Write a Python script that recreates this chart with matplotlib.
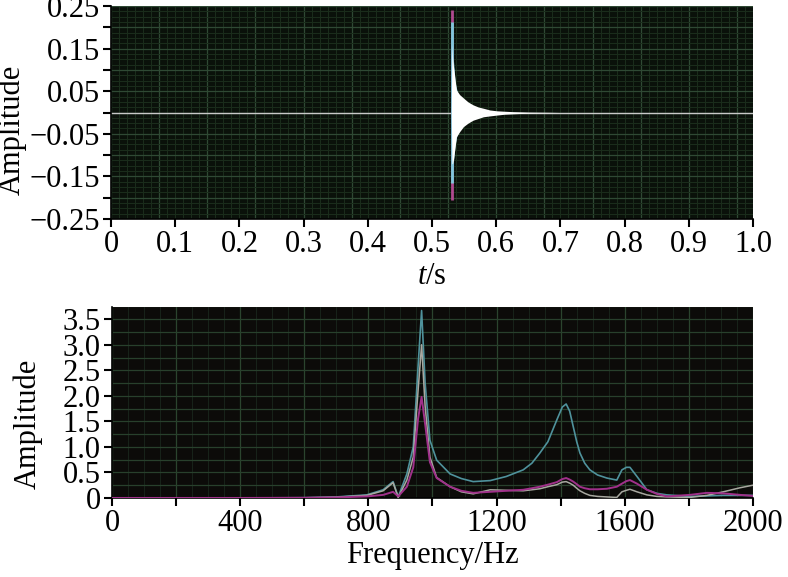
import numpy as np
import matplotlib
matplotlib.use("Agg")
import matplotlib.pyplot as plt
from matplotlib.ticker import MultipleLocator, FixedLocator

plt.rcParams['font.family'] = ['Liberation Serif', 'DejaVu Serif']
plt.rcParams['mathtext.fontset'] = 'custom'
plt.rcParams['mathtext.rm'] = 'Liberation Serif'
plt.rcParams['mathtext.it'] = 'Liberation Serif:italic'

# ---- time-domain signal (envelope) ----
t_env = [0.5300, 0.5310, 0.5320, 0.5335, 0.538, 0.543, 0.549, 0.556, 0.564,
         0.572, 0.580, 0.590, 0.601, 0.613, 0.626, 0.650, 0.679, 0.700]
white_up = [0.0, 0.16, 0.13, 0.107, 0.053, 0.042, 0.034, 0.025, 0.018,
            0.013, 0.010, 0.006, 0.004, 0.003, 0.002, 0.001, 0.0005, 0.0]
white_lo = [0.0, -0.12, -0.12, -0.11, -0.057, -0.045, -0.033, -0.025, -0.018,
            -0.014, -0.010, -0.008, -0.006, -0.004, -0.003, -0.0015, -0.0006, 0.0]

t_cyan = [0.530, 0.531, 0.533, 0.536, 0.540, 0.548]
cyan_up = [0.0, 0.213, 0.13, 0.07, 0.045, 0.03]
cyan_lo = [0.0, -0.165, -0.12, -0.075, -0.045, -0.03]

spike_t = [0.5305, 0.5312]
spike_hi = [0.24, 0.213]
spike_lo = [-0.205, -0.165]

t_base = [0.0, 1.0]
base_val = [0.0, 0.0]

# ---- spectrum ----
freq = [0, 200, 400, 600, 700, 795, 846, 877, 893, 920, 940, 955, 966, 977,
        992, 1013, 1055, 1090, 1127, 1180, 1230, 1283, 1310, 1335, 1360, 1388,
        1405, 1417, 1428, 1439, 1450, 1460, 1475, 1491, 1515, 1544, 1575, 1591,
        1605, 1616, 1638, 1669, 1700, 1731, 1803, 1856, 1907, 1960, 2000]
amp_cyan = [0, 0, 0, 0.005, 0.02, 0.06, 0.16, 0.32, 0.02, 0.47, 1.0, 2.57, 3.67,
            2.25, 1.13, 0.74, 0.47, 0.38, 0.32, 0.34, 0.42, 0.55, 0.68, 0.88,
            1.1, 1.53, 1.78, 1.84, 1.7, 1.40, 1.1, 0.88, 0.68, 0.55, 0.45, 0.39,
            0.35, 0.55, 0.6, 0.60, 0.42, 0.16, 0.09, 0.06, 0.03, 0.04, 0.05,
            0.05, 0.05]
amp_mag = [0, 0, 0, 0.003, 0.01, 0.03, 0.06, 0.12, 0.03, 0.22, 0.6, 1.55, 1.98,
           1.45, 0.7, 0.39, 0.22, 0.14, 0.1, 0.12, 0.14, 0.16, 0.19, 0.22, 0.26,
           0.31, 0.37, 0.39, 0.36, 0.32, 0.27, 0.22, 0.19, 0.17, 0.17, 0.18,
           0.22, 0.28, 0.33, 0.35, 0.28, 0.16, 0.08, 0.03, 0.06, 0.1, 0.09,
           0.06, 0.04]
amp_gray = [0, 0, 0, 0.003, 0.015, 0.05, 0.14, 0.3, 0.01, 0.35, 0.8, 2.1, 3.0,
            1.8, 0.8, 0.4, 0.22, 0.12, 0.08, 0.16, 0.15, 0.14, 0.16, 0.18, 0.22,
            0.26, 0.31, 0.32, 0.29, 0.25, 0.19, 0.14, 0.09, 0.05, 0.03, 0.02,
            0.01, 0.12, 0.15, 0.17, 0.12, 0.06, 0.03, 0.02, 0.01, 0.05, 0.12,
            0.2, 0.25]

top_yticks = [-0.25, -0.15, -0.05, 0.05, 0.15, 0.25]
top_yminor = [-0.2, -0.1, 0.0, 0.1, 0.2]
bot_xticks = [0, 400, 800, 1200, 1600, 2000]
bot_xminor = [200, 600, 1000, 1400, 1800]

fs = 22
fig = plt.figure(figsize=(7.88, 5.77), dpi=100)
ax1 = fig.add_axes([0.1409, 0.6205, 0.8147, 0.369])
ax2 = fig.add_axes([0.1421, 0.137, 0.8135, 0.331])


def style(ax, bg):
    ax.set_facecolor(bg)
    for s in ['top', 'right']:
        ax.spines[s].set_visible(False)
    for s in ['left', 'bottom']:
        ax.spines[s].set_linewidth(1.2)
    ax.tick_params(which='both', direction='out', length=6, width=1.5,
                   labelsize=fs, pad=2)
    ax.set_axisbelow(True)


# top panel
style(ax1, '#0a110a')
for x in np.arange(0, 1.0001, 0.0125):
    ax1.axvline(x, color='#1b2d1c', lw=0.7, zorder=0)
for x in np.arange(0, 1.0001, 0.075):
    ax1.axvline(x, color='#2f4934', lw=0.9, zorder=0)
for y in np.arange(-0.25, 0.2501, 0.0125):
    ax1.axhline(y, color='#1b2d1c', lw=0.7, zorder=0)
for y in np.arange(-0.25, 0.2501, 0.05):
    ax1.axhline(y, color='#2f4934', lw=0.9, zorder=0)

ax1.plot(t_base, base_val, color='#c8c8c8', lw=1.0, zorder=2)
ax1.fill_between(t_cyan, cyan_lo, cyan_up, color='#7fc8dc', lw=0, zorder=3)
ax1.vlines(spike_t, spike_lo, spike_hi, colors=['#b04a90', '#7fc8dc'],
           lw=2.0, zorder=3)
ax1.fill_between(t_env, white_lo, white_up, color='white', lw=0, zorder=4)
ax1.set_xlim(0, 1.0)
ax1.set_ylim(-0.25, 0.25)
ax1.xaxis.set_major_locator(MultipleLocator(0.1))
ax1.xaxis.set_major_formatter(plt.FuncFormatter(
    lambda v, p: '0' if abs(v) < 1e-9 else f'{v:.1f}'))
ax1.yaxis.set_major_locator(FixedLocator(top_yticks))
ax1.yaxis.set_minor_locator(FixedLocator(top_yminor))
ax1.yaxis.set_major_formatter(plt.FuncFormatter(
    lambda v, p: f'{v:.2f}'.replace('-', '\u2212')))
ax1.set_ylabel('Amplitude', fontsize=fs)
ax1.yaxis.set_label_coords(-0.131, 0.42)
ax1.set_xlabel('$t$/s', fontsize=fs)
ax1.xaxis.set_label_coords(0.5, -0.2)

# bottom panel
style(ax2, '#0c0b09')
for x in np.arange(0, 2001, 50):
    ax2.axvline(x, color='#18231a', lw=0.7, zorder=0)
for x in np.arange(0, 2001, 200):
    ax2.axvline(x, color='#2b442e', lw=0.9, zorder=0)
for y in np.arange(0, 3.76, 0.25):
    ax2.axhline(y, color='#28402c', lw=0.9, zorder=0)

ax2.plot(freq, amp_cyan, color='#4f929c', lw=1.2, zorder=3)
ax2.plot(freq, amp_gray, color='#a8a8a0', lw=1.1, zorder=4)
ax2.plot(freq, amp_mag, color='#a0308a', lw=1.4, zorder=5)
ax2.set_xlim(0, 2000)
ax2.set_ylim(0, 3.74)
ax2.xaxis.set_major_locator(FixedLocator(bot_xticks))
ax2.xaxis.set_minor_locator(FixedLocator(bot_xminor))
ax2.yaxis.set_major_locator(MultipleLocator(0.5))
ax2.yaxis.set_major_formatter(plt.FuncFormatter(
    lambda v, p: '0' if abs(v) < 1e-9 else f'{v:.1f}'))
ax2.set_ylabel('Amplitude', fontsize=fs)
ax2.yaxis.set_label_coords(-0.108, 0.39)
ax2.set_xlabel('Frequency/Hz', fontsize=fs)
ax2.xaxis.set_label_coords(0.5, -0.225)

fig.savefig('out.png', dpi=100)
